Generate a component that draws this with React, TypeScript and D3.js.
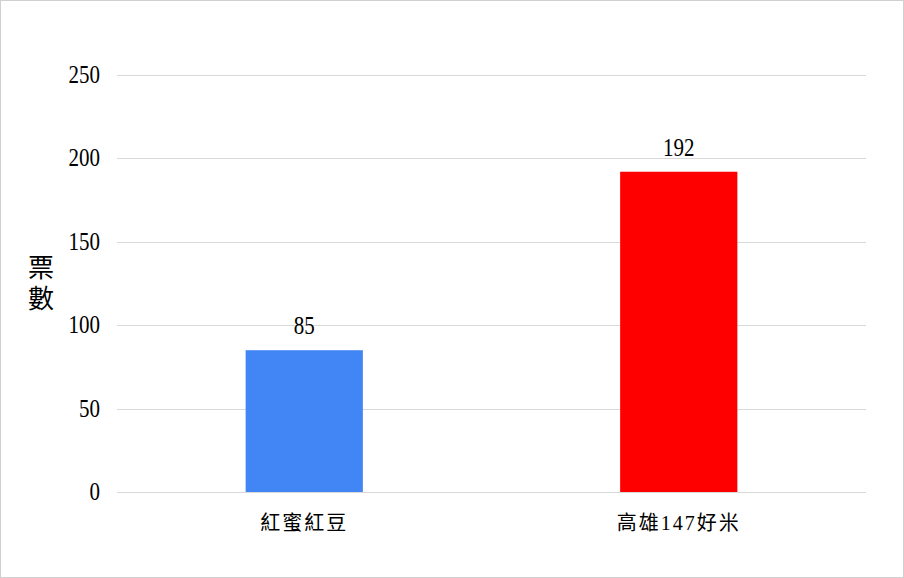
import * as d3 from 'd3';
import React, { useEffect, useRef } from 'react';

const categories = ['紅蜜紅豆', '高雄147好米'];
const votes = [85, 192];
const barColors = ['#4285f4', '#ff0000'];
const yTicks = [0, 50, 100, 150, 200, 250];
const yTitle = ['票', '數'];

const FONT = '"Liberation Serif", "Noto Sans CJK TC", serif';

const App: React.FC = () => {
  const ref = useRef<SVGSVGElement | null>(null);

  useEffect(() => {
    const width = 904;
    const height = 578;
    const margin = { top: 75, right: 38, bottom: 86, left: 117 };

    const svg = d3.select(ref.current)
      .attr('width', width)
      .attr('height', height);
    svg.selectAll('*').remove();

    svg.append('rect')
      .attr('x', 0.5).attr('y', 0.5)
      .attr('width', width - 1).attr('height', height - 1)
      .attr('fill', '#fff')
      .attr('stroke', '#d0d0d0');

    const x = d3.scaleBand<string>()
      .domain(categories)
      .range([margin.left, width - margin.right])
      .paddingInner(0.687)
      .paddingOuter(0.3435);

    const y = d3.scaleLinear()
      .domain([0, 250])
      .range([height - margin.bottom, margin.top]);

    // gridlines
    svg.append('g')
      .selectAll('line')
      .data(yTicks)
      .enter()
      .append('line')
      .attr('x1', margin.left)
      .attr('x2', width - margin.right)
      .attr('y1', d => Math.round(y(d)) + 0.5)
      .attr('y2', d => Math.round(y(d)) + 0.5)
      .attr('stroke', '#d9d9d9')
      .attr('stroke-width', 1);

    // tick labels (digits stretched a little to look like the tall Ming digits)
    svg.append('g')
      .selectAll('text')
      .data(yTicks)
      .enter()
      .append('text')
      .attr('transform', d => `translate(100,${y(d) + 8}) scale(1,1.2)`)
      .attr('text-anchor', 'end')
      .attr('font-family', FONT)
      .attr('font-size', 21)
      .attr('fill', '#000')
      .text(d => d);

    // bars
    svg.append('g')
      .selectAll('rect')
      .data(votes)
      .enter()
      .append('rect')
      .attr('x', (_d, i) => x(categories[i]) as number)
      .attr('width', x.bandwidth())
      .attr('y', d => y(d))
      .attr('height', d => y(0) - y(d))
      .attr('fill', (_d, i) => barColors[i]);

    // value labels
    svg.append('g')
      .selectAll('text')
      .data(votes)
      .enter()
      .append('text')
      .attr('transform', (d, i) =>
        `translate(${(x(categories[i]) as number) + x.bandwidth() / 2},${y(d) - 16}) scale(1,1.2)`)
      .attr('text-anchor', 'middle')
      .attr('font-family', FONT)
      .attr('font-size', 21)
      .attr('fill', '#000')
      .text(d => d);

    // category labels
    svg.append('g')
      .selectAll('text')
      .data(categories)
      .enter()
      .append('text')
      .attr('x', d => (x(d) as number) + x.bandwidth() / 2)
      .attr('y', 530)
      .attr('text-anchor', 'middle')
      .attr('font-family', FONT)
      .attr('font-size', 20)
      .attr('letter-spacing', 2)
      .attr('fill', '#000')
      .text(d => d);

    // y axis title, stacked vertically
    svg.append('g')
      .selectAll('text')
      .data(yTitle)
      .enter()
      .append('text')
      .attr('x', 41)
      .attr('y', (_d, i) => 277 + i * 31)
      .attr('text-anchor', 'middle')
      .attr('font-family', FONT)
      .attr('font-size', 26)
      .attr('fill', '#000')
      .text(d => d);
  }, []);

  return (
    <svg ref={ref} style={{ position: 'absolute', left: 0, top: 0, display: 'block' }}></svg>
  );
};

export default App;
